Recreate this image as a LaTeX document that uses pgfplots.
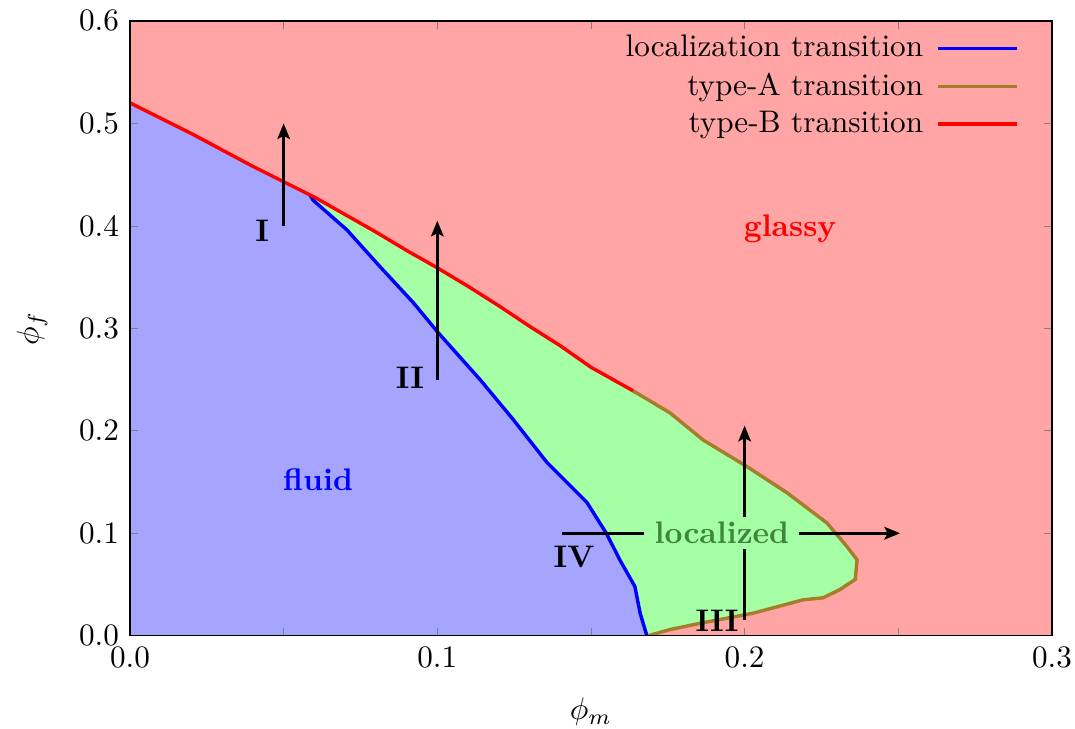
\documentclass[border=0pt]{standalone}
\usepackage{pgfplots}
\pgfplotsset{compat=1.18}
\usetikzlibrary{arrows.meta}
\definecolor{redfill}{RGB}{255,165,165}
\definecolor{bluefill}{RGB}{165,165,255}
\definecolor{greenfill}{RGB}{165,255,165}
\definecolor{brownline}{RGB}{166,125,40}
\definecolor{locgreen}{RGB}{60,135,60}
\begin{document}
\begin{tikzpicture}
\begin{axis}[
  scale only axis, width=295.7pt, height=197.2pt,
  xmin=0, xmax=0.3, ymin=0, ymax=0.6,
  xtick={0,0.05,0.1,0.15,0.2,0.25,0.3},
  xticklabels={0.0,,0.1,,0.2,,0.3},
  ytick={0,0.1,0.2,0.3,0.4,0.5,0.6},
  yticklabels={0.0,0.1,0.2,0.3,0.4,0.5,0.6},
  tick pos=both, tick align=inside, major tick length=2.6pt,
  axis on top,
  xlabel={$\phi_m$}, ylabel={$\phi_f$},
  xlabel style={at={(axis description cs:0.5,-0.1237)}, anchor=center},
  ylabel style={at={(axis description cs:-0.1062,0.5)}, anchor=center},
  legend style={at={(rel axis cs:0.9746,0.998)}, anchor=north east, draw=none, fill=none, row sep=-0.4pt},
  legend cell align=right,
  legend plot pos=right,
  legend image code/.code={\path (0pt,0pt); \draw[#1] (2.2pt,0pt) -- (27.5pt,0pt);},
]
\coordinate (sw) at (rel axis cs:0,0);
% background (glassy)
\addplot[fill=redfill, draw=none, forget plot] coordinates {(0,0) (0.3,0) (0.3,0.6) (0,0.6)} -- cycle;
% fluid region
\addplot[fill=bluefill, draw=none, forget plot] coordinates {
(0,0) (0,0.520) (0.01,0.505) (0.02,0.490) (0.03,0.474) (0.04,0.458) (0.05,0.443) (0.0586,0.430)
(0.0596,0.425) (0.0706,0.396) (0.0814,0.360) (0.0922,0.325) (0.1002,0.296) (0.1139,0.250)
(0.1247,0.211) (0.1357,0.169) (0.1487,0.130) (0.155,0.100) (0.1594,0.074) (0.1643,0.048)
(0.166,0.022) (0.1682,0)} -- cycle;
% localized region
\addplot[fill=greenfill, draw=none, forget plot] coordinates {
(0.0586,0.430) (0.06,0.428) (0.07,0.411) (0.08,0.394) (0.09,0.376) (0.10,0.359) (0.11,0.341)
(0.12,0.322) (0.13,0.302) (0.14,0.283) (0.15,0.262) (0.1637,0.239)
(0.1757,0.2175) (0.1865,0.191) (0.2008,0.165) (0.2138,0.1395) (0.2268,0.110) (0.2333,0.087)
(0.2366,0.074) (0.236,0.055) (0.231,0.045) (0.2255,0.037) (0.219,0.035) (0.2028,0.022)
(0.1865,0.0127) (0.1757,0.006) (0.1686,0)
(0.1682,0) (0.166,0.022) (0.1643,0.048) (0.1594,0.074) (0.155,0.100) (0.1487,0.130)
(0.1357,0.169) (0.1247,0.211) (0.1139,0.250) (0.1002,0.296) (0.0922,0.325) (0.0814,0.360)
(0.0706,0.396) (0.0596,0.425)} -- cycle;
% localization transition
\addplot[blue, line width=1.1pt] coordinates {
(0.0586,0.430) (0.0596,0.425) (0.0706,0.396) (0.0814,0.360) (0.0922,0.325) (0.1002,0.296)
(0.1139,0.250) (0.1247,0.211) (0.1357,0.169) (0.1487,0.130) (0.155,0.100) (0.1594,0.074)
(0.1643,0.048) (0.166,0.022) (0.1682,0)};
\addlegendentry{localization transition}
% type-A
\addplot[brownline, line width=1.1pt] coordinates {
(0.1637,0.239) (0.1757,0.2175) (0.1865,0.191) (0.2008,0.165) (0.2138,0.1395) (0.2268,0.110)
(0.2333,0.087) (0.2366,0.074) (0.236,0.055) (0.231,0.045) (0.2255,0.037) (0.219,0.035)
(0.2028,0.022) (0.1865,0.0127) (0.1757,0.006) (0.1686,0)};
\addlegendentry{type-A transition}
% type-B
\addplot[red, line width=1.1pt] coordinates {
(0,0.520) (0.01,0.505) (0.02,0.490) (0.03,0.474) (0.04,0.458) (0.05,0.443) (0.06,0.428)
(0.07,0.411) (0.08,0.394) (0.09,0.376) (0.10,0.359) (0.11,0.341) (0.12,0.322) (0.13,0.302)
(0.14,0.283) (0.15,0.262) (0.1637,0.239)};
\addlegendentry{type-B transition}
% arrows
\addplot[black, line width=1.1pt, -{Stealth[length=5pt,width=4pt,inset=1pt]}, forget plot] coordinates {(0.05,0.40) (0.05,0.50)};
\addplot[black, line width=1.1pt, -{Stealth[length=5pt,width=4pt,inset=1pt]}, forget plot] coordinates {(0.1,0.25) (0.1,0.405)};
\addplot[black, line width=1.1pt, -{Stealth[length=5pt,width=4pt,inset=1pt]}, forget plot] coordinates {(0.2,0.0156) (0.2,0.205)};
\addplot[black, line width=1.1pt, -{Stealth[length=5pt,width=4pt,inset=1pt]}, forget plot] coordinates {(0.1406,0.1) (0.2506,0.1)};
% labels
\node[fill=greenfill, inner xsep=3.3pt, inner ysep=1.6pt, text=locgreen, font=\bfseries] at (axis cs:0.1926,0.1005) {localized};
\node[text=red, font=\bfseries] at (axis cs:0.2148,0.397) {glassy};
\node[text=blue, font=\bfseries] at (axis cs:0.0612,0.152) {fluid};
\node[font=\bfseries] at (axis cs:0.043,0.395) {I};
\node[font=\bfseries] at (axis cs:0.0911,0.252) {II};
\node[font=\bfseries] at (axis cs:0.191,0.0146) {III};
\node[font=\bfseries] at (axis cs:0.1445,0.0766) {IV};
\end{axis}
\pgfresetboundingbox
\path[use as bounding box] ([shift={(-41.7pt,-29.8pt)}]sw) rectangle ([shift={(303.1pt,203.9pt)}]sw);
\end{tikzpicture}
\end{document}
